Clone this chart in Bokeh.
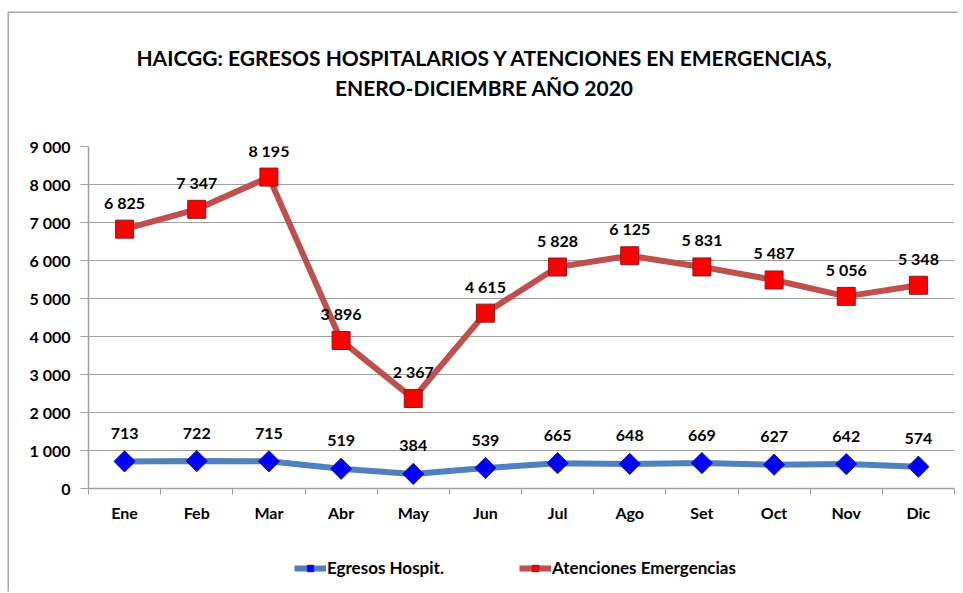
import math
from bokeh.plotting import figure
from bokeh.layouts import column
from bokeh.models import (ColumnDataSource, LabelSet, Legend, LegendItem,
                          FixedTicker, Div)
from bokeh.core.properties import value
from bokeh.embed import file_html
from bokeh.resources import INLINE

months = ["Ene", "Feb", "Mar", "Abr", "May", "Jun", "Jul", "Ago", "Set", "Oct", "Nov", "Dic"]
egresos = [713, 722, 715, 519, 384, 539, 665, 648, 669, 627, 642, 574]
atenciones = [6825, 7347, 8195, 3896, 2367, 4615, 5828, 6125, 5831, 5487, 5056, 5348]
y_ticks = [0, 1000, 2000, 3000, 4000, 5000, 6000, 7000, 8000, 9000]
y_tick_labels = ["0", "1 000", "2 000", "3 000", "4 000", "5 000", "6 000", "7 000", "8 000", "9 000"]
series_names = ["Egresos Hospit.", "Atenciones Emergencias"]
title_line1 = "HAICGG: EGRESOS HOSPITALARIOS Y ATENCIONES EN EMERGENCIAS,"
title_line2 = "ENERO-DICIEMBRE AÑO 2020"


def fmt(v):
    return f"{v:,}".replace(",", " ")


FONT = "Lato"
BLUE_LINE, BLUE_FILL, BLUE_EDGE = "#4F81BD", "#0000FF", "#1a1a80"
RED_LINE, RED_FILL, RED_EDGE = "#C0504D", "#FF0000", "#8B1A1A"
DIAMOND = math.pi / 4

xpos = [i + 0.5 for i in range(len(months))]
src = ColumnDataSource(dict(
    x=xpos, eg=egresos, at=atenciones,
    eg_lbl=[fmt(v) for v in egresos], at_lbl=[fmt(v) for v in atenciones],
))

# title block
title_div = Div(
    text=(f'<div style="width:950px;text-align:center;padding-top:30px;'
          f'font-family:{FONT};font-weight:bold;font-size:21px;line-height:30px;'
          f'color:#000000;">{title_line1}<br>{title_line2}</div>'),
    width=950, height=100, margin=0)

p = figure(width=950, height=430, x_range=(0, len(months)), y_range=(0, 9000),
           output_backend="svg", toolbar_location=None, title=None,
           min_border_left=79, min_border_right=5, min_border_top=33, min_border_bottom=55)
p.outline_line_color = None

# grid
p.xgrid.grid_line_color = None
p.ygrid.grid_line_color = "#a0a0a0"
p.ygrid.grid_line_width = 1

# y axis
p.yaxis.ticker = FixedTicker(ticks=y_ticks)
p.yaxis.major_label_overrides = {t_: l for t_, l in zip(y_ticks, y_tick_labels)}
p.yaxis.axis_line_color = "#a0a0a0"
p.yaxis.axis_line_width = 1.5
p.yaxis.major_tick_line_color = "#a0a0a0"
p.yaxis.major_tick_out = 8
p.yaxis.major_tick_in = 0
p.yaxis.minor_tick_line_color = None
p.yaxis.major_label_text_font = FONT
p.yaxis.major_label_text_font_style = "bold"
p.yaxis.major_label_text_font_size = "16px"
p.yaxis.major_label_text_color = "#000000"
p.yaxis.major_label_standoff = 10

# x axis
p.xaxis.ticker = FixedTicker(ticks=xpos, minor_ticks=list(range(len(months) + 1)))
p.xaxis.major_label_overrides = {x_: m for x_, m in zip(xpos, months)}
p.xaxis.axis_line_color = "#a0a0a0"
p.xaxis.axis_line_width = 1.5
p.xaxis.major_tick_line_color = None
p.xaxis.major_tick_out = 6
p.xaxis.major_tick_in = 0
p.xaxis.minor_tick_line_color = "#a0a0a0"
p.xaxis.minor_tick_out = 6
p.xaxis.minor_tick_in = 0
p.xaxis.major_label_text_font = FONT
p.xaxis.major_label_text_font_style = "bold"
p.xaxis.major_label_text_font_size = "16px"
p.xaxis.major_label_text_color = "#000000"
p.xaxis.major_label_standoff = 8

# series
p.line("x", "eg", source=src, line_color=BLUE_LINE, line_width=6)
p.scatter("x", "eg", source=src, marker="square", size=15, angle=DIAMOND,
          fill_color=BLUE_FILL, line_color=BLUE_EDGE, line_width=1)
p.line("x", "at", source=src, line_color=RED_LINE, line_width=6)
p.scatter("x", "at", source=src, marker="square", size=18,
          fill_color=RED_FILL, line_color=RED_EDGE, line_width=1)

p.add_layout(LabelSet(x="x", y="eg", text="eg_lbl", source=src, y_offset=28,
                      text_align="center", text_baseline="middle", text_font=value(FONT),
                      text_font_style="bold", text_font_size="16px", text_color="#000000"))
p.add_layout(LabelSet(x="x", y="at", text="at_lbl", source=src, y_offset=27,
                      text_align="center", text_baseline="middle", text_font=value(FONT),
                      text_font_style="bold", text_font_size="16px", text_color="#000000"))

# legend strip (separate figure below the chart); its sample points lie off-range
q = figure(width=950, height=50, x_range=(0, 1), y_range=(0, 1),
           output_backend="svg", toolbar_location=None, title=None,
           min_border_left=0, min_border_right=0, min_border_top=0, min_border_bottom=0)
q.axis.visible = False
q.grid.visible = False
q.outline_line_color = None
offsrc = ColumnDataSource(dict(x=[-5, -4], y=[-5, -5]))
ql1 = q.line("x", "y", source=offsrc, line_color=BLUE_LINE, line_width=6)
qs1 = q.scatter("x", "y", source=offsrc, marker="square", size=9, angle=DIAMOND,
                fill_color=BLUE_FILL, line_color=BLUE_EDGE, line_width=1)
ql2 = q.line("x", "y", source=offsrc, line_color=RED_LINE, line_width=6)
qs2 = q.scatter("x", "y", source=offsrc, marker="square", size=15,
                fill_color=RED_FILL, line_color=RED_EDGE, line_width=1)
legend = Legend(items=[LegendItem(label=series_names[0], renderers=[ql1, qs1]),
                       LegendItem(label=series_names[1], renderers=[ql2, qs2])],
                orientation="horizontal", location=(206, 15),
                label_text_font=FONT, label_text_font_style="bold",
                label_text_font_size="17px", label_text_color="#000000",
                glyph_width=32, glyph_height=16, spacing=75, label_standoff=1,
                border_line_color=None, background_fill_alpha=0, margin=0, padding=4)
q.add_layout(legend, "center")

layout = column(title_div, p, q, spacing=0)
layout.styles = {"margin-left": "9px", "margin-top": "13px",
                 "box-shadow": "-1.5px -1.5px 0 0 #a8a8a8"}

open("out.html", "w").write(file_html(layout, INLINE))
